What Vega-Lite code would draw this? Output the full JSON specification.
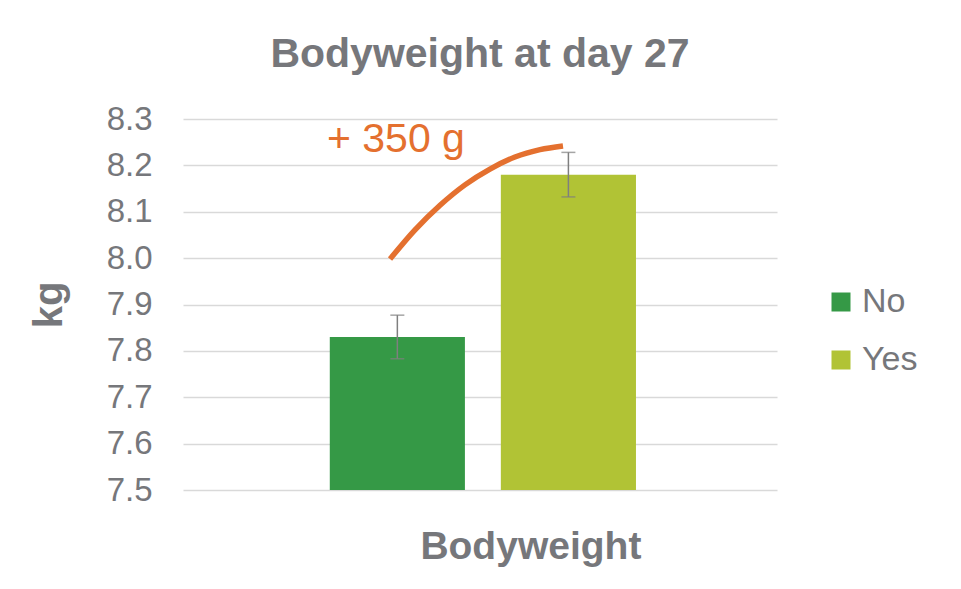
{
  "$schema": "https://vega.github.io/schema/vega-lite/v6.json",
  "width": 594,
  "height": 371,
  "autosize": {"type": "none"},
  "padding": {"left": 183, "top": 119, "right": 184, "bottom": 99},
  "background": "white",
  "config": {"view": {"stroke": null}, "font": "Liberation Sans"},
  "title": {"text": "Bodyweight at day 27", "fontSize": 41, "fontWeight": "bold", "color": "#76777B", "anchor": "middle", "frame": "group", "baseline": "alphabetic", "offset": -5},
  "datasets": {
    "bars": [
      {"category": "Bodyweight", "group": "No", "mean": 7.83, "lo": 7.783, "hi": 7.877},
      {"category": "Bodyweight", "group": "Yes", "mean": 8.18, "lo": 8.132, "hi": 8.228}
    ],
    "curve": [
      {"px": 34.85, "kg": 7.998},
      {"px": 39.06, "kg": 8.061},
      {"px": 43.27, "kg": 8.114},
      {"px": 47.47, "kg": 8.158},
      {"px": 51.68, "kg": 8.192},
      {"px": 55.89, "kg": 8.218},
      {"px": 60.1, "kg": 8.234},
      {"px": 63.97, "kg": 8.242}
    ],
    "note": [
      {"px": 24.24, "kg": 8.228, "label": "+ 350 g"}
    ]
  },
  "layer": [
    {
      "data": {"name": "bars"},
      "encoding": {
        "x": {"field": "category", "type": "nominal", "scale": {"paddingOuter": 0.47, "paddingInner": 0, "align": 0.51},
          "axis": {"title": null, "ticks": false, "domain": false, "labelAngle": 0, "labelFontSize": 39, "labelFontWeight": "bold", "labelColor": "#76777B", "labelPadding": 37, "labelOffset": 48, "labelLimit": 0}},
        "xOffset": {"field": "group", "type": "nominal", "scale": {"paddingInner": 0.21, "paddingOuter": 0}}
      },
      "layer": [
        {
          "mark": {"type": "bar"},
          "encoding": {
            "y": {"field": "mean", "type": "quantitative", "scale": {"domain": [7.5, 8.3], "nice": false, "zero": false},
              "axis": {"title": "kg", "titleFontSize": 40, "titleFontWeight": "bold", "titleColor": "#76777B", "titlePadding": 37,
                "values": [7.5, 7.6, 7.7, 7.8, 7.9, 8.0, 8.1, 8.2, 8.3], "format": ".1f", "labelFontSize": 33, "labelColor": "#76777B", "labelPadding": 31,
                "ticks": false, "domain": false, "grid": true, "gridColor": "#D9D9D9", "gridWidth": 1.5}},
            "y2": {"datum": 7.5},
            "color": {"field": "group", "type": "nominal", "scale": {"domain": ["No", "Yes"], "range": ["#359946", "#B1C335"]},
              "legend": {"orient": "none", "legendX": 641, "legendY": 166, "title": null, "symbolType": "square", "symbolSize": 361, "symbolStrokeWidth": 0, "labelFontSize": 34, "labelColor": "#76777B", "labelOffset": 4, "rowPadding": 24, "padding": 0}}
          }
        },
        {
          "mark": {"type": "rule", "color": "#7F7F7F", "strokeWidth": 1.5},
          "encoding": {"y": {"field": "lo", "type": "quantitative"}, "y2": {"field": "hi"}}
        },
        {
          "mark": {"type": "tick", "color": "#7F7F7F", "thickness": 1.5, "size": 14, "orient": "horizontal"},
          "encoding": {"y": {"field": "lo", "type": "quantitative"}}
        },
        {
          "mark": {"type": "tick", "color": "#7F7F7F", "thickness": 1.5, "size": 14, "orient": "horizontal"},
          "encoding": {"y": {"field": "hi", "type": "quantitative"}}
        }
      ]
    },
    {
      "encoding": {
        "x": {"field": "px", "type": "quantitative", "scale": {"domain": [0, 100], "nice": false, "zero": false}, "axis": null},
        "y": {"field": "kg", "type": "quantitative"}
      },
      "layer": [
        {
          "data": {"name": "curve"},
          "mark": {"type": "line", "interpolate": "monotone", "color": "#E4702F", "strokeWidth": 5.5, "strokeCap": "butt"}
        },
        {
          "data": {"name": "note"},
          "mark": {"type": "text", "align": "left", "baseline": "alphabetic", "fontSize": 41, "color": "#E4702F"},
          "encoding": {"text": {"field": "label"}}
        }
      ]
    }
  ],
  "resolve": {"scale": {"x": "independent"}}
}
